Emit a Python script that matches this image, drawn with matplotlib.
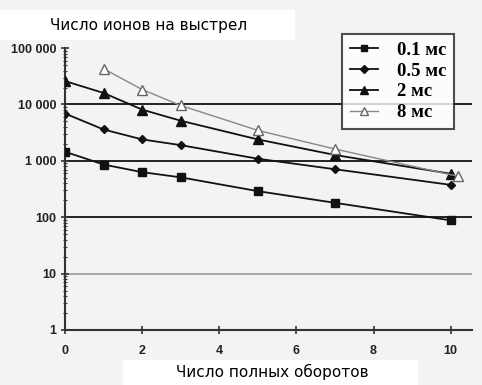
import numpy as np
import matplotlib.pyplot as plt
from matplotlib.patches import Rectangle
from matplotlib.ticker import FixedLocator, LogLocator, NullFormatter

# Данные
x_a = [0, 1, 2, 3, 5, 7, 10]
y_01 = [1450, 860, 630, 510, 290, 180, 88]
y_05 = [6900, 3600, 2400, 1900, 1090, 710, 375]
y_2 = [26000, 16000, 8100, 5150, 2400, 1270, 590]
x_8 = [1, 2, 3, 5, 7, 10.2]
y_8 = [43000, 18400, 9600, 3470, 1620, 530]

labels = ["0.1 мс", "0.5 мс", "2 мс", "8 мс"]
yticks = [1, 10, 100, 1000, 10000, 100000]
ytick_labels = ["1", "10", "100", "1 000", "10 000", "100 000"]
xticks = [0, 2, 4, 6, 8, 10]

bg = "#f3f3f3"
fig = plt.figure(figsize=(4.82, 3.85), dpi=100, facecolor=bg)
ax = fig.add_axes([0.135, 0.143, 0.844, 0.732])
ax.set_facecolor(bg)

# горизонтальные линии сетки
for v in [100, 1000, 10000]:
    ax.axhline(v, color="black", lw=1.2, zorder=1)
ax.axhline(10, color="#999999", lw=1.2, zorder=1)

ax.plot(x_a, y_01, "-s", color="#111111", lw=1.3, ms=5.5, label=labels[0], zorder=3)
ax.plot(x_a, y_05, "-D", color="#111111", lw=1.3, ms=4.5, label=labels[1], zorder=3)
ax.plot(x_a, y_2, "-^", color="#111111", lw=1.3, ms=6.5, label=labels[2], zorder=3)
ax.plot(x_8, y_8, "-^", color="#888888", lw=1.0, ms=7, mfc="white", mec="#666666",
        label=labels[3], zorder=3)

ax.set_yscale("log")
ax.set_ylim(1, 100000)
ax.set_xlim(0, 10.55)
ax.yaxis.set_major_locator(FixedLocator(yticks))
ax.set_yticklabels(ytick_labels)
ax.yaxis.set_minor_locator(LogLocator(base=10, subs=np.arange(2, 10)))
ax.yaxis.set_minor_formatter(NullFormatter())
ax.set_xticks(xticks)

for s in ["top", "right"]:
    ax.spines[s].set_visible(False)
for s in ["left", "bottom"]:
    ax.spines[s].set_color("#333333")
    ax.spines[s].set_linewidth(1.5)

ax.tick_params(axis="both", which="major", direction="inout", length=6, width=1.2,
               color="#333333", labelsize=9, labelcolor="#222222")
ax.tick_params(axis="y", which="minor", direction="inout", length=3, width=0.8,
               color="#333333")
ax.tick_params(axis="y", pad=3)
ax.tick_params(axis="x", pad=8)
for t in ax.get_xticklabels() + ax.get_yticklabels():
    t.set_fontweight("bold")
    t.set_family("Liberation Sans")

leg = ax.legend(loc="upper right", bbox_to_anchor=(0.955, 1.05), borderaxespad=0,
                frameon=True, fancybox=False, markerscale=0.8,
                prop={"family": "Liberation Serif", "weight": "bold", "size": 13.5},
                handlelength=1.5, labelspacing=0.2, borderpad=0.4, handletextpad=1.0)
leg.get_frame().set_edgecolor("#222222")
leg.get_frame().set_linewidth(1.5)
leg.get_frame().set_facecolor("white")

# подписи в белых прямоугольниках
fig.add_artist(Rectangle((0.0, 0.896), 0.612, 0.078, transform=fig.transFigure,
                         facecolor="white", edgecolor="none", zorder=0))
fig.add_artist(Rectangle((0.255, 0.0), 0.612, 0.065, transform=fig.transFigure,
                         facecolor="white", edgecolor="none", zorder=0))
fig.text(0.104, 0.935, "Число ионов на выстрел", fontsize=11, family="DejaVu Sans",
         va="center", ha="left")
fig.text(0.565, 0.034, "Число полных оборотов", fontsize=11, family="DejaVu Sans",
         va="center", ha="center")

fig.savefig("out.png", dpi=100, facecolor=bg)
